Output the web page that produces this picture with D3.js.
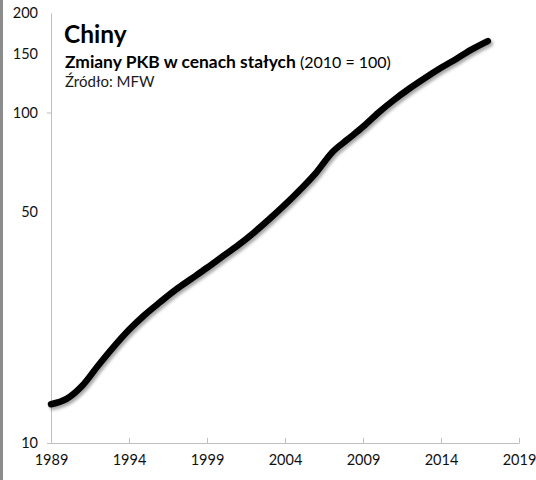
<!DOCTYPE html>
<html>
<head>
<meta charset="utf-8">
<script src="https://cdn.jsdelivr.net/npm/d3@7"></script>
<style>
html,body{margin:0;padding:0;background:#fff;}
svg{display:block;}
text{font-family:Lato,"Open Sans",sans-serif;}
</style>
</head>
<body>
<svg id="chart" width="536" height="480"></svg>
<script>
const years = [1989,1990,1991,1992,1993,1994,1995,1996,1997,1998,1999,2000,2001,2002,2003,2004,2005,2006,2007,2008,2009,2010,2011,2012,2013,2014,2015,2016,2017];
const gdpIndex = [13.1,13.6,14.9,17.1,19.5,22.0,24.4,26.7,29.1,31.4,33.9,36.7,39.7,43.3,47.6,52.6,58.6,65.8,75.6,82.8,90.5,100,109.3,118.4,127.4,136.5,145.5,155.5,164.5];
const xTicks = [1989,1994,1999,2004,2009,2014,2019];
const yTicks = [10,50,100,150,200];
const yTickMarks = [10,100];
const title = "Chiny";
const subtitleBold = "Zmiany PKB w cenach stałych";
const subtitleNormal = " (2010 = 100)";
const source = "Źródło: MFW";

const svg = d3.select("#chart");
const axisColor = "#bfbfbf";

// left gray edge
svg.append("rect").attr("x",0).attr("y",0).attr("width",3).attr("height",480).attr("fill","#8c8c8c");

const x = d3.scaleLinear().domain([1989,2019]).range([51,519]);
const y = d3.scaleLog().domain([10,200]).range([443,13]);

// drop shadow filter
const defs = svg.append("defs");
const f = defs.append("filter").attr("id","shadow").attr("x","-10%").attr("y","-10%").attr("width","130%").attr("height","130%");
f.append("feDropShadow").attr("dx",2).attr("dy",2.5).attr("stdDeviation",1.6).attr("flood-color","#000").attr("flood-opacity",0.35);

// x axis
const xAxis = svg.append("g").attr("transform","translate(0,443)")
  .call(d3.axisBottom(x).tickValues(xTicks).tickFormat(d3.format("d")).tickSizeInner(-5).tickSizeOuter(0).tickPadding(12));
xAxis.select(".domain").attr("stroke",axisColor);
xAxis.selectAll(".tick line").attr("stroke",axisColor);
xAxis.selectAll(".tick text").attr("fill","#111").attr("font-size","14.5px");

// y axis
const yAxis = svg.append("g").attr("transform","translate(51,0)")
  .call(d3.axisLeft(y).tickValues(yTicks).tickFormat(d3.format("d")).tickSizeInner(4).tickSizeOuter(0).tickPadding(9));
yAxis.select(".domain").attr("stroke",axisColor);
yAxis.selectAll(".tick line").attr("stroke",d => yTickMarks.includes(d) ? axisColor : "none");
yAxis.selectAll(".tick text").attr("fill","#111").attr("font-size","14.5px");

// line
const line = d3.line().x((d,i)=>x(years[i])).y(d=>y(d)).curve(d3.curveMonotoneX);
svg.append("path").datum(gdpIndex)
  .attr("d",line).attr("fill","none").attr("stroke","#000").attr("stroke-width",6.5)
  .attr("stroke-linecap","round").attr("stroke-linejoin","round").attr("filter","url(#shadow)");

// titles
svg.append("text").attr("x",64).attr("y",43).attr("font-size","24.5px").attr("font-weight","bold").attr("fill","#000").text(title);
const st = svg.append("text").attr("x",65).attr("y",68).attr("fill","#000");
st.append("tspan").attr("font-weight","bold").attr("font-size","17.4px").text(subtitleBold);
st.append("tspan").attr("font-weight","normal").attr("font-size","16px").text(subtitleNormal);
svg.append("text").attr("x",65).attr("y",87).attr("font-size","15px").attr("fill","#1a1a1a").text(source);
</script>
</body>
</html>
